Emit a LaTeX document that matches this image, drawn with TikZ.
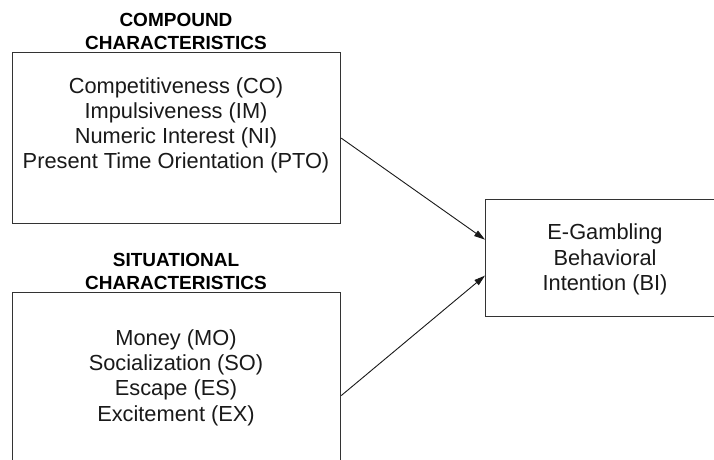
\documentclass[tikz,border=0pt]{standalone}
\usepackage{fontspec}
\setmainfont{Liberation Sans}
\usetikzlibrary{arrows.meta,calc}
\begin{document}
\begin{tikzpicture}[x=1pt,y=-1pt,
  boxnode/.style={draw=black!80, line width=1.2pt, rectangle, inner sep=0pt, anchor=north west},
  bodytext/.style={font=\fontsize{21.8}{25.3}\selectfont, align=center, text=black!90, inner sep=0pt},
  headtext/.style={font=\fontsize{19}{23}\selectfont\bfseries, align=center, text=black, inner sep=0pt},
  link/.style={line width=0.9pt, draw=black!90, -{Triangle[length=11pt,width=6.5pt]}}]
\useasboundingbox (0,0) rectangle (714,459);
\clip (0,0) rectangle (714,459);
% boxes
\node[boxnode, minimum width=328pt, minimum height=171pt] (cc) at (12,52) {};
\node[boxnode, minimum width=328pt, minimum height=206pt] (sc) at (12,292) {};
\node[boxnode, minimum width=240pt, minimum height=117pt] (bi) at (485,199) {};
% headers
\node[headtext] (cchead) at (176,31.5) {COMPOUND\\CHARACTERISTICS};
\node[headtext] (schead) at (176,271.5) {SITUATIONAL\\CHARACTERISTICS};
% body texts
\node[bodytext] (cctext) at (176,125.4) {Competitiveness (CO)\\Impulsiveness (IM)\\Numeric Interest (NI)\\Present Time Orientation (PTO)};
\node[bodytext] (sctext) at (176,377.4) {Money (MO)\\Socialization (SO)\\Escape (ES)\\Excitement (EX)};
\node[bodytext] (bitext) at (605,259.4) {E-Gambling\\Behavioral\\Intention (BI)};
% connectors
\draw[link] (cc.east) -- ($(bi.west)+(0,-18.5)$);
\draw[link] (sc.east) -- ($(bi.west)+(0,17.5)$);
\end{tikzpicture}
\end{document}
